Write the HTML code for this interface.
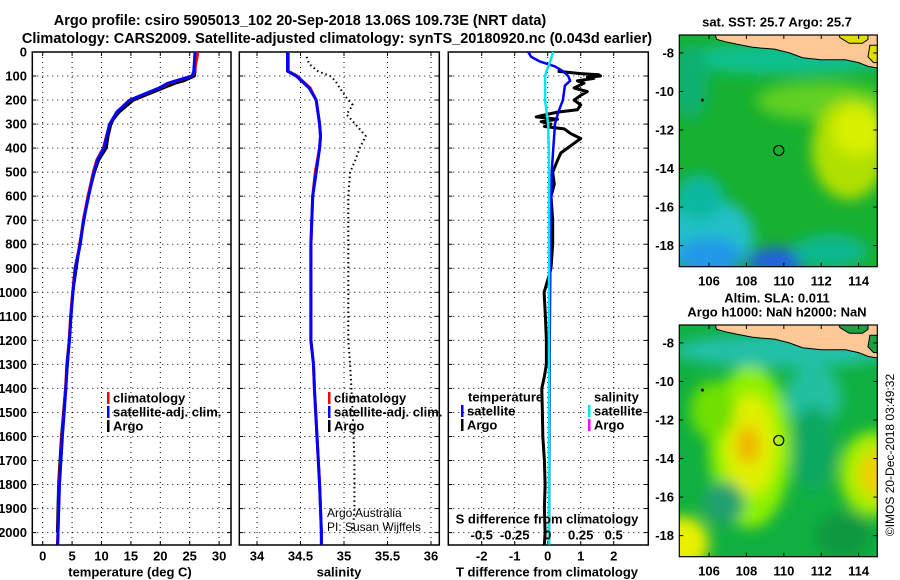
<!DOCTYPE html>
<html><head><meta charset="utf-8"><style>
html,body{margin:0;padding:0;background:#fff;}
svg{display:block;font-family:"Liberation Sans",Arial,sans-serif;}
.b{font-weight:bold;font-size:13px;}
</style></head><body>
<svg id="s" width="900" height="580" viewBox="0 0 900 580" xmlns="http://www.w3.org/2000/svg">
<defs>
<filter id="blur" x="-20%" y="-20%" width="140%" height="140%"><feGaussianBlur stdDeviation="7"/></filter>
<clipPath id="cm1"><rect x="679.3" y="35" width="198" height="231.7"/></clipPath>
<clipPath id="cm2"><rect x="679.3" y="325" width="198" height="231.7"/></clipPath>
</defs>
<text x="300" y="25" text-anchor="middle" font-size="14.5" font-weight="bold">Argo profile: csiro 5905013_102 20-Sep-2018 13.06S 109.73E (NRT data)</text>
<text x="337" y="43" text-anchor="middle" font-size="14.5" font-weight="bold">Climatology: CARS2009. Satellite-adjusted climatology: synTS_20180920.nc (0.043d earlier)</text>
</svg>
<script>
// ---- data ----
const depthTicks=[0,100,200,300,400,500,600,700,800,900,1000,1100,1200,1300,1400,1500,1600,1700,1800,1900,2000];
const tempTicks=[0,5,10,15,20,25,30];
const salTicks=[34,34.5,35,35.5,36];
const salTickLabels=["34","34.5","35","35.5","36"];
const tdiffTicks=[-2,-1,0,1,2];
const sdiffTicks=[-0.5,-0.25,0,0.25,0.5];
const sdiffTickLabels=["-0.5","-0.25","0","0.25","0.5"];

const climDepth=[0,80,100,130,150,200,250,300,400,450,500,600,700,800,900,1000,1100,1200,1300,1400,1600,1800,2000,2050];
const climTemp=[26.4,25.8,25.5,21.5,19.9,14.8,12.6,11.4,10.3,9.2,8.6,7.7,6.9,6.35,5.5,5.1,4.75,4.5,4.1,3.9,3.3,2.8,2.6,2.5];
const satTemp=[25.9,25.7,25.4,21.3,19.8,14.8,12.6,11.4,10.4,9.3,8.7,7.8,6.95,6.4,5.55,5.15,4.8,4.55,4.15,3.95,3.35,2.85,2.6,2.55];
const argoDepth=[5,80,100,120,130,150,200,250,280,300,350,400,450,500,600,800,1000,1200,1400,1600,1800,2000];
const argoTemp=[26.0,25.9,25.8,24.0,22.5,20.5,15.4,13.0,12.0,11.6,11.1,10.8,9.5,8.8,7.7,6.3,5.1,4.5,3.9,3.2,2.7,2.5];

const salDepth=[0,80,100,150,200,300,350,400,500,600,800,1000,1200,1300,1400,1600,1800,2000,2050];
const climSal=[34.36,34.36,34.46,34.61,34.68,34.72,34.73,34.72,34.67,34.64,34.62,34.62,34.62,34.65,34.66,34.69,34.72,34.74,34.74];
const satSal=[34.35,34.35,34.45,34.6,34.68,34.72,34.73,34.72,34.68,34.64,34.62,34.62,34.62,34.65,34.66,34.69,34.72,34.74,34.74];
const argoSalDepth=[20,50,80,100,120,150,200,220,260,300,350,400,450,500,600,800,1000,1200,1300,1500,1700,1900,2000];
const argoSal=[34.57,34.6,34.7,34.84,34.9,34.95,35.05,35.1,35.03,35.13,35.25,35.18,35.13,35.07,35.05,35.05,35.05,35.05,35.07,35.1,35.12,35.12,35.1];

const tdDepth=[0,20,40,60,80,100,120,140,200,250,300,400,500,700,900,1200,1600,2050];
const tdSat=[-0.59,-0.5,-0.23,0.22,0.46,0.62,0.68,0.52,0.46,0.32,0.22,0.17,0.12,0.1,0.08,0.06,0.05,0.04];
const sdSat=[0.042,0.03,0.018,0.005,-0.01,-0.02,-0.02,-0.02,-0.02,-0.008,0.003,0.008,0.01,0.01,0.01,0.01,0.01,0.01];
const tdArgoDepth=[80,90,95,100,105,110,120,130,150,165,180,200,220,240,250,265,270,280,290,300,310,320,340,360,380,400,420,450,500,550,600,700,800,900,950,1000,1100,1200,1300,1350,1400,1500,1600,1700,1800,1900,2000,2050];
const tdArgo=[0.3,1.0,1.55,1.6,1.2,1.4,0.9,1.1,0.8,1.2,1.0,0.8,1.0,0.9,0.3,-0.2,-0.35,0.3,-0.2,0.1,-0.1,0.5,0.7,1.0,0.8,0.6,0.4,0.3,0.15,0.2,0.1,0.15,0.15,0.1,0.0,-0.11,-0.07,-0.04,-0.04,-0.1,-0.18,-0.16,-0.15,-0.1,-0.08,-0.1,-0.08,-0.1];

const mapLonTicks=[106,108,110,112,114];
const mapLatTicks=[-8,-10,-12,-14,-16,-18];
const argoLon=109.73, argoLat=-13.06;

// ---- helpers ----
const S=document.getElementById('s');
const NS='http://www.w3.org/2000/svg';
function el(tag,attrs,parent){const e=document.createElementNS(NS,tag);for(const k in attrs)e.setAttribute(k,attrs[k]);(parent||S).appendChild(e);return e;}
function txt(x,y,t,anchor,cls,parent){const e=el('text',{x:x,y:y,'text-anchor':anchor||'middle','dominant-baseline':'central'},parent);if(cls)e.setAttribute('class',cls);e.textContent=t;return e;}

const Y=d=>52+d*0.2403;
const YB=545;
const xT=t=>42.7+t*5.88;
const xS=s=>257+(s-34)*87;
const xD=v=>547.7+v*33;
const xSD=v=>547.7+v*132;

function panel(name,x0,x1,vticks,vx){
  const g=el('g',{});
  
  
  depthTicks.forEach(d=>{if(d>0){el('line',{x1:x0,x2:x1,y1:Y(d),y2:Y(d),stroke:'#000','stroke-width':1,'stroke-dasharray':'1,4'},g);
    el('line',{x1:x0,x2:x0+4,y1:Y(d),y2:Y(d),stroke:'#000'},g);el('line',{x1:x1-4,x2:x1,y1:Y(d),y2:Y(d),stroke:'#000'},g);}});
  vticks.forEach(v=>{el('line',{x1:vx(v),x2:vx(v),y1:52,y2:YB,stroke:'#000','stroke-width':1,'stroke-dasharray':'1,4'},g);
    el('line',{x1:vx(v),x2:vx(v),y1:YB-4,y2:YB,stroke:'#000'},g);el('line',{x1:vx(v),x2:vx(v),y1:52,y2:56,stroke:'#000'},g);});
  el('rect',{x:x0,y:52,width:x1-x0,height:YB-52,fill:'none',stroke:'#000','stroke-width':1.5},g);
  return g;
}
function line(g,xs,ds,fx,color,w,name,dash){
  const p=el('polyline',{points:xs.map((v,i)=>fx(v).toFixed(1)+','+Y(ds[i]).toFixed(1)).join(' '),fill:'none',stroke:color,'stroke-width':w,'stroke-linejoin':'round'},g);
  if(dash)p.setAttribute('stroke-dasharray',dash);
  
  
  return p;
}
function legend(g,x,y,color,label){
  el('rect',{x:x-1,y:y-6,width:2.5,height:12,fill:color},g);
  const t=txt(x+5,y,label,'start','b',g);
  
  
}

// y-axis labels
const ya=el('g',{});


depthTicks.forEach(d=>txt(27,Y(d),String(d),'end','b',ya));

// panel 1
const p1=panel('temperature-panel',32.3,231,tempTicks,xT);
line(p1,argoTemp,argoDepth,xT,'#000',3,'argo-temperature');
line(p1,climTemp,climDepth,xT,'#f00',3,'climatology-temperature');
line(p1,satTemp,climDepth,xT,'#00f',3,'satellite-temperature');
tempTicks.forEach(t=>txt(xT(t),556,String(t),'middle','b',p1));
txt(130,572,'temperature (deg C)','middle','b',p1);
legend(p1,108,398,'#f00','climatology');legend(p1,108,412,'#00f','satellite-adj. clim.');legend(p1,108,426,'#000','Argo');

// panel 2
const p2=panel('salinity-panel',239.3,439.3,salTicks,xS);
line(p2,argoSal,argoSalDepth,xS,'#000',2,'argo-salinity','1.5,3');
line(p2,climSal,salDepth,xS,'#f00',3,'climatology-salinity');
line(p2,satSal,salDepth,xS,'#00f',3,'satellite-salinity');
salTicks.forEach((s,i)=>txt(xS(s),556,salTickLabels[i],'middle','b',p2));
txt(339,572,'salinity','middle','b',p2);
legend(p2,329,398,'#f00','climatology');legend(p2,329,412,'#00f','satellite-adj. clim.');legend(p2,329,426,'#000','Argo');
const c1=txt(327,513,'Argo Australia','start',null,p2);c1.setAttribute('font-size','12');
const c2=txt(327,527,'PI: Susan Wijffels','start',null,p2);c2.setAttribute('font-size','12');

// panel 3
const p3=panel('difference-panel',448.3,648.3,tdiffTicks,xD);
line(p3,tdArgo,tdArgoDepth,xD,'#000',3,'argo-temperature-diff');
line(p3,tdSat,tdDepth,xD,'#00f',2.5,'satellite-temperature-diff');
line(p3,sdSat,tdDepth,xSD,'#00e8e8',2.5,'satellite-salinity-diff');
tdiffTicks.forEach(t=>txt(xD(t),556,String(t),'middle','b',p3));
sdiffTicks.forEach((t,i)=>txt(xSD(t),535,sdiffTickLabels[i],'middle','b',p3));
txt(547,519,'S difference from climatology','middle','b',p3);
txt(547,572,'T difference from climatology','middle','b',p3);
txt(468,397,'temperature','start','b',p3);
legend(p3,462,411,'#00f','satellite');legend(p3,462,425,'#000','Argo');
txt(594,397,'salinity','start','b',p3);
legend(p3,589,411,'#00e8e8','satellite');legend(p3,589,425,'#f0f','Argo');

// maps
const MX=l=>679.3+(l-104.41)*18.7;
const MY=(a,off)=>off+(-7.07-a)*19.27;
const landPts=[[106.3,-6.9],[106.4,-7.3],[107,-7.45],[107.5,-7.55],[108.3,-7.7],[108.8,-7.75],[109.5,-7.8],[110.3,-8.0],[111,-8.25],[111.5,-8.3],[112,-8.35],[112.7,-8.35],[113.3,-8.35],[114,-8.5],[114.5,-8.7],[115.1,-8.8],[115.1,-6.9]];
const straitPts=[[112.9,-6.9],[113,-7.2],[113.5,-7.5],[114.2,-7.5],[114.5,-7.3],[114.5,-6.9]];
const straitPts2=[[114.6,-7.6],[114.5,-8.2],[114.8,-8.5],[115.1,-8.5],[115.1,-7.6]];
function poly(pts,off){return pts.map(p=>MX(p[0]).toFixed(1)+','+MY(p[1],off).toFixed(1)).join(' ');}
const sstBlobs=[[110,-8.3,6,0.8,'#10c090'],[112,-10.5,3.5,1,'#60d020'],[113.5,-13,2,2.6,'#b0e000'],[114,-12,1.4,1.3,'#d8f000'],[105.8,-17.5,2.6,2,'#20c0c8'],[106,-18.6,1.8,1,'#2098e8'],[109.6,-18.8,1.6,0.7,'#2060e0'],[112.5,-18.3,2,0.9,'#10b890'],[105.5,-15.5,1.3,1.2,'#10b8a0'],[105,-9.5,1,2,'#10b070']];
const slaBlobs=[[110,-8.4,6,0.9,'#20c0a8'],[111.6,-10.8,1.5,1.6,'#20c0a0'],[111.6,-13.5,1.2,2.2,'#10a860'],[108.2,-13.4,2.2,4.2,'#90f000'],[108.2,-13.3,1.4,2.6,'#e0f000'],[108.1,-13.3,0.6,1,'#f0b000'],[114.8,-14.8,1.8,2.2,'#a8f000'],[114.9,-14.8,0.9,1.2,'#f0d000'],[104.6,-18.4,1.4,1.4,'#e8f000'],[106.8,-16.3,1.1,1.1,'#20a070'],[113.2,-18,1.5,1.2,'#109840'],[106.2,-11.5,1.2,1.5,'#70e000']];
function map(name,off,base,blobs,straitCol,clip){
  const g=el('g',{});
  
  
  const inner=el('g',{'clip-path':'url(#'+clip+')'},g);
  el('rect',{x:679.3,y:off,width:198,height:231.7,fill:base},inner);
  const bg=el('g',{filter:'url(#blur)'},inner);
  blobs.forEach(b=>el('ellipse',{cx:MX(b[0]),cy:MY(b[1],off),rx:b[2]*18.7,ry:b[3]*19.27,fill:b[4]},bg));
  el('polygon',{points:poly(landPts,off),fill:'#fdc896',stroke:'#000','stroke-width':1},inner);
  el('polygon',{points:poly(straitPts,off),fill:straitCol,stroke:'#000','stroke-width':1},inner);
  el('polygon',{points:poly(straitPts2,off),fill:straitCol,stroke:'#000','stroke-width':1},inner);
  el('circle',{cx:MX(105.65),cy:MY(-10.45,off),r:1.5,fill:'#000'},inner);
  const c=el('circle',{cx:MX(argoLon),cy:MY(argoLat,off),r:5,fill:'none',stroke:'#000','stroke-width':1.2},g);
  
  
  el('rect',{x:679.3,y:off,width:198,height:231.7,fill:'none',stroke:'#000','stroke-width':1.2},g);
  mapLonTicks.forEach(l=>{el('line',{x1:MX(l),x2:MX(l),y1:off,y2:off+4,stroke:'#000'},g);el('line',{x1:MX(l),x2:MX(l),y1:off+231.7,y2:off+227.7,stroke:'#000'},g);
    txt(MX(l),off+246,String(l),'middle','b',g);});
  mapLatTicks.forEach(a=>{el('line',{x1:877.3,x2:873.3,y1:MY(a,off),y2:MY(a,off),stroke:'#000'},g);el('line',{x1:679.3,x2:683.3,y1:MY(a,off),y2:MY(a,off),stroke:'#000'},g);
    txt(674,MY(a,off),String(a),'end','b',g);});
  return g;
}
map('sst-map',35,'#18b030',sstBlobs,'#e0e000','cm1');
map('sla-map',325,'#10b040',slaBlobs,'#20a040','cm2');
txt(777,22,'sat. SST: 25.7 Argo: 25.7','middle','b');
txt(777,298,'Altim. SLA: 0.011','middle','b');
txt(777,312,'Argo h1000: NaN h2000: NaN','middle','b');
const cr=el('text',{x:0,y:0,'text-anchor':'middle','dominant-baseline':'central','font-size':'12',transform:'translate(890,455) rotate(-90)'});
cr.textContent='©IMOS 20-Dec-2018 03:49:32';


</script>
</body></html>
